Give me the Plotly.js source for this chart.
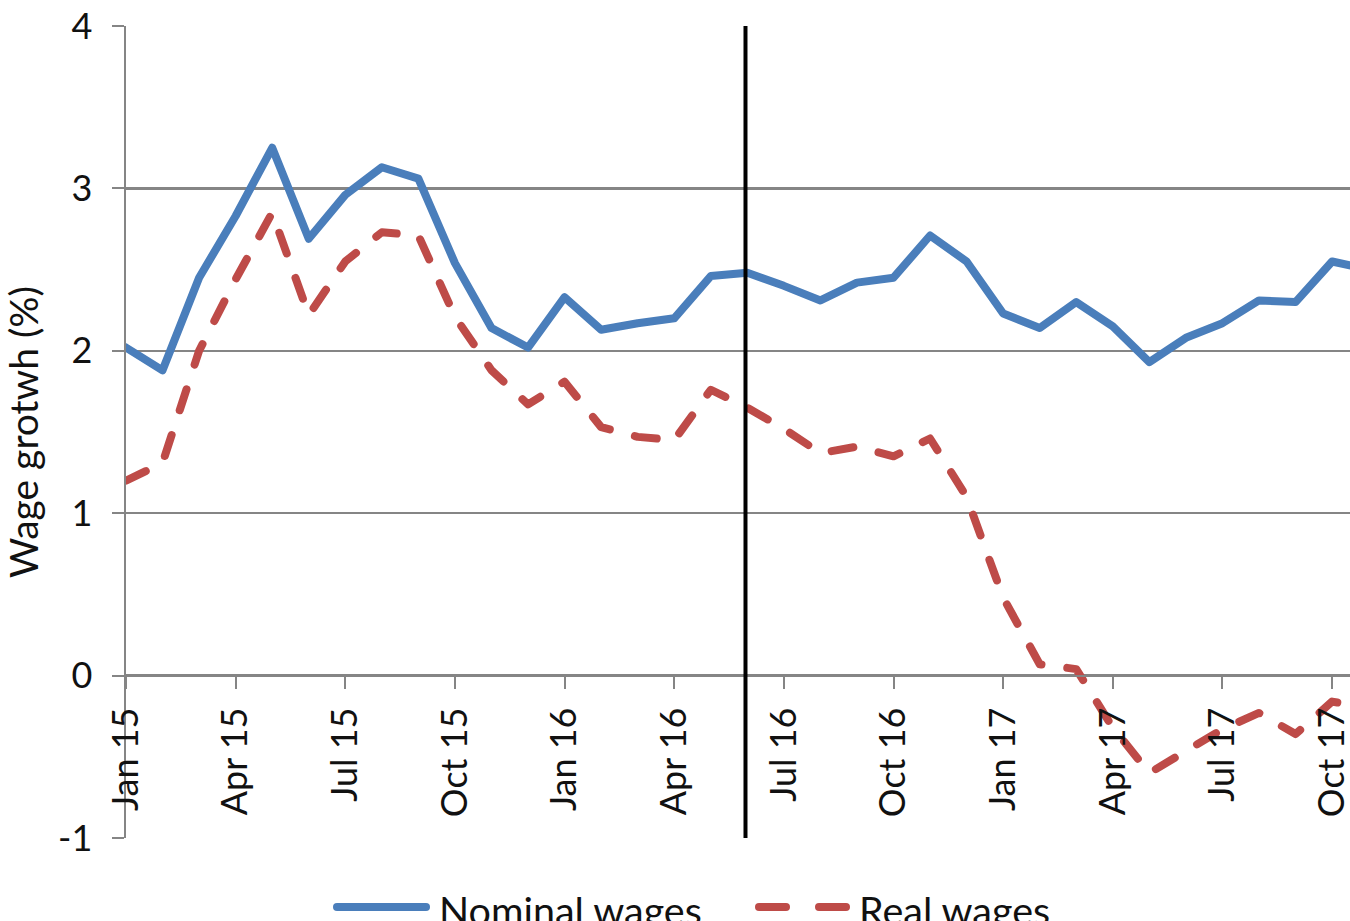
<!DOCTYPE html>
<html>
<head>
<meta charset="utf-8">
<script src="https://cdn.plot.ly/plotly-3.0.1.min.js"></script>
<style>
  html, body { margin: 0; padding: 0; background: #fff; }
  #chart { width: 1350px; height: 921px; }
  .js-line { stroke-linecap: round !important; stroke-linejoin: round !important; }
</style>
</head>
<body>
<div id="chart"></div>
<script>
// Monthly wage growth, Jan 2015 - Nov 2017 (% year on year)
const months = [
  'Jan 15','Feb 15','Mar 15','Apr 15','May 15','Jun 15','Jul 15','Aug 15','Sep 15','Oct 15','Nov 15','Dec 15',
  'Jan 16','Feb 16','Mar 16','Apr 16','May 16','Jun 16','Jul 16','Aug 16','Sep 16','Oct 16','Nov 16','Dec 16',
  'Jan 17','Feb 17','Mar 17','Apr 17','May 17','Jun 17','Jul 17','Aug 17','Sep 17','Oct 17','Nov 17'
];

const nominalWages = [
  2.02, 1.88, 2.45, 2.83, 3.25, 2.69, 2.96, 3.13, 3.06, 2.54, 2.14, 2.02,
  2.33, 2.13, 2.17, 2.20, 2.46, 2.48, 2.40, 2.31, 2.42, 2.45, 2.71, 2.55,
  2.23, 2.14, 2.30, 2.15, 1.93, 2.08, 2.17, 2.31, 2.30, 2.55, 2.50
];

const realWages = [
  1.20, 1.31, 2.00, 2.44, 2.85, 2.22, 2.55, 2.73, 2.71, 2.21, 1.88, 1.67,
  1.81, 1.53, 1.47, 1.45, 1.76, 1.65, 1.52, 1.37, 1.41, 1.35, 1.46, 1.10,
  0.48, 0.07, 0.04, -0.32, -0.60, -0.46, -0.33, -0.23, -0.36, -0.16, -0.20
];

const yTickValues = [-1, 0, 1, 2, 3, 4];
const yTickLabels = ['-1', '0', '1', '2', '3', '4'];

const seriesNames = ['Nominal wages', 'Real wages'];
const breakMonth = 'Jun 16';

const BLUE = '#4a7ebb';
const RED = '#be4b48';
const GRID = '#858585';
const INK = '#111';
const FONT = 'Lato, "Open Sans", sans-serif';

const traces = [
  {
    x: months, y: nominalWages, name: seriesNames[0],
    type: 'scatter', mode: 'lines',
    line: { color: BLUE, width: 8 }
  },
  {
    x: months, y: realWages, name: seriesNames[1],
    type: 'scatter', mode: 'lines',
    line: { color: RED, width: 8, dash: '22px,26px' }
  }
];

const breakIndex = months.indexOf(breakMonth) - 0.05;

// pixel helpers for the legend row below the plot
const plotLeft = 126, plotWidth = 1224;
const px = v => (v - plotLeft) / plotWidth;
const legendY = -0.085;

const layout = {
  width: 1350, height: 921,
  margin: { l: 126, r: 0, t: 26, b: 83 },
  paper_bgcolor: '#fff', plot_bgcolor: '#fff',
  showlegend: false,
  font: { family: FONT, size: 36, color: INK },
  xaxis: {
    type: 'category',
    range: [0, 33.49],
    anchor: 'free', position: 0.2,
    tickmode: 'linear', tick0: 0, dtick: 3,
    tickangle: -90,
    ticks: 'outside', ticklen: 12, tickwidth: 2, tickcolor: GRID,
    ticklabelstandoff: 4,
    showline: true, linecolor: GRID, linewidth: 2.5,
    showgrid: false, zeroline: false,
    tickfont: { family: FONT, size: 36, color: INK },
    fixedrange: true
  },
  yaxis: {
    range: [-1, 4],
    tickmode: 'array', tickvals: yTickValues, ticktext: yTickLabels,
    ticks: 'outside', ticklen: 12, tickwidth: 2, tickcolor: GRID,
    ticklabelstandoff: 12,
    showline: true, linecolor: GRID, linewidth: 2.5,
    showgrid: true, gridcolor: GRID, gridwidth: 2.5,
    zeroline: false,
    tickfont: { family: FONT, size: 36, color: INK },
    title: { text: 'Wage grotwh (%)', font: { family: FONT, size: 39, color: INK }, standoff: 10 },
    fixedrange: true
  },
  shapes: [
    {
      type: 'line', xref: 'x', yref: 'y',
      x0: breakIndex, x1: breakIndex, y0: -1, y1: 4,
      line: { color: '#000', width: 4 }
    },
    // legend keys
    {
      type: 'line', xref: 'paper', yref: 'paper',
      x0: px(337), x1: px(426), y0: legendY, y1: legendY,
      line: { color: BLUE, width: 8 }
    },
    {
      type: 'line', xref: 'paper', yref: 'paper',
      x0: px(759), x1: px(846), y0: legendY, y1: legendY,
      line: { color: RED, width: 8, dash: '27px,33px' }
    }
  ],
  annotations: [
    {
      xref: 'paper', yref: 'paper',
      x: px(437), y: legendY - 0.003, xanchor: 'left', yanchor: 'middle',
      text: seriesNames[0], showarrow: false,
      font: { family: FONT, size: 39.5, color: INK }
    },
    {
      xref: 'paper', yref: 'paper',
      x: px(857), y: legendY - 0.003, xanchor: 'left', yanchor: 'middle',
      text: seriesNames[1], showarrow: false,
      font: { family: FONT, size: 39.5, color: INK }
    }
  ]
};

Plotly.newPlot('chart', traces, layout, { displayModeBar: false, staticPlot: true }).then(function () {
  document.querySelectorAll('.shapelayer path').forEach(function (p) {
    p.style.strokeLinecap = 'round';
  });
});
</script>
</body>
</html>
